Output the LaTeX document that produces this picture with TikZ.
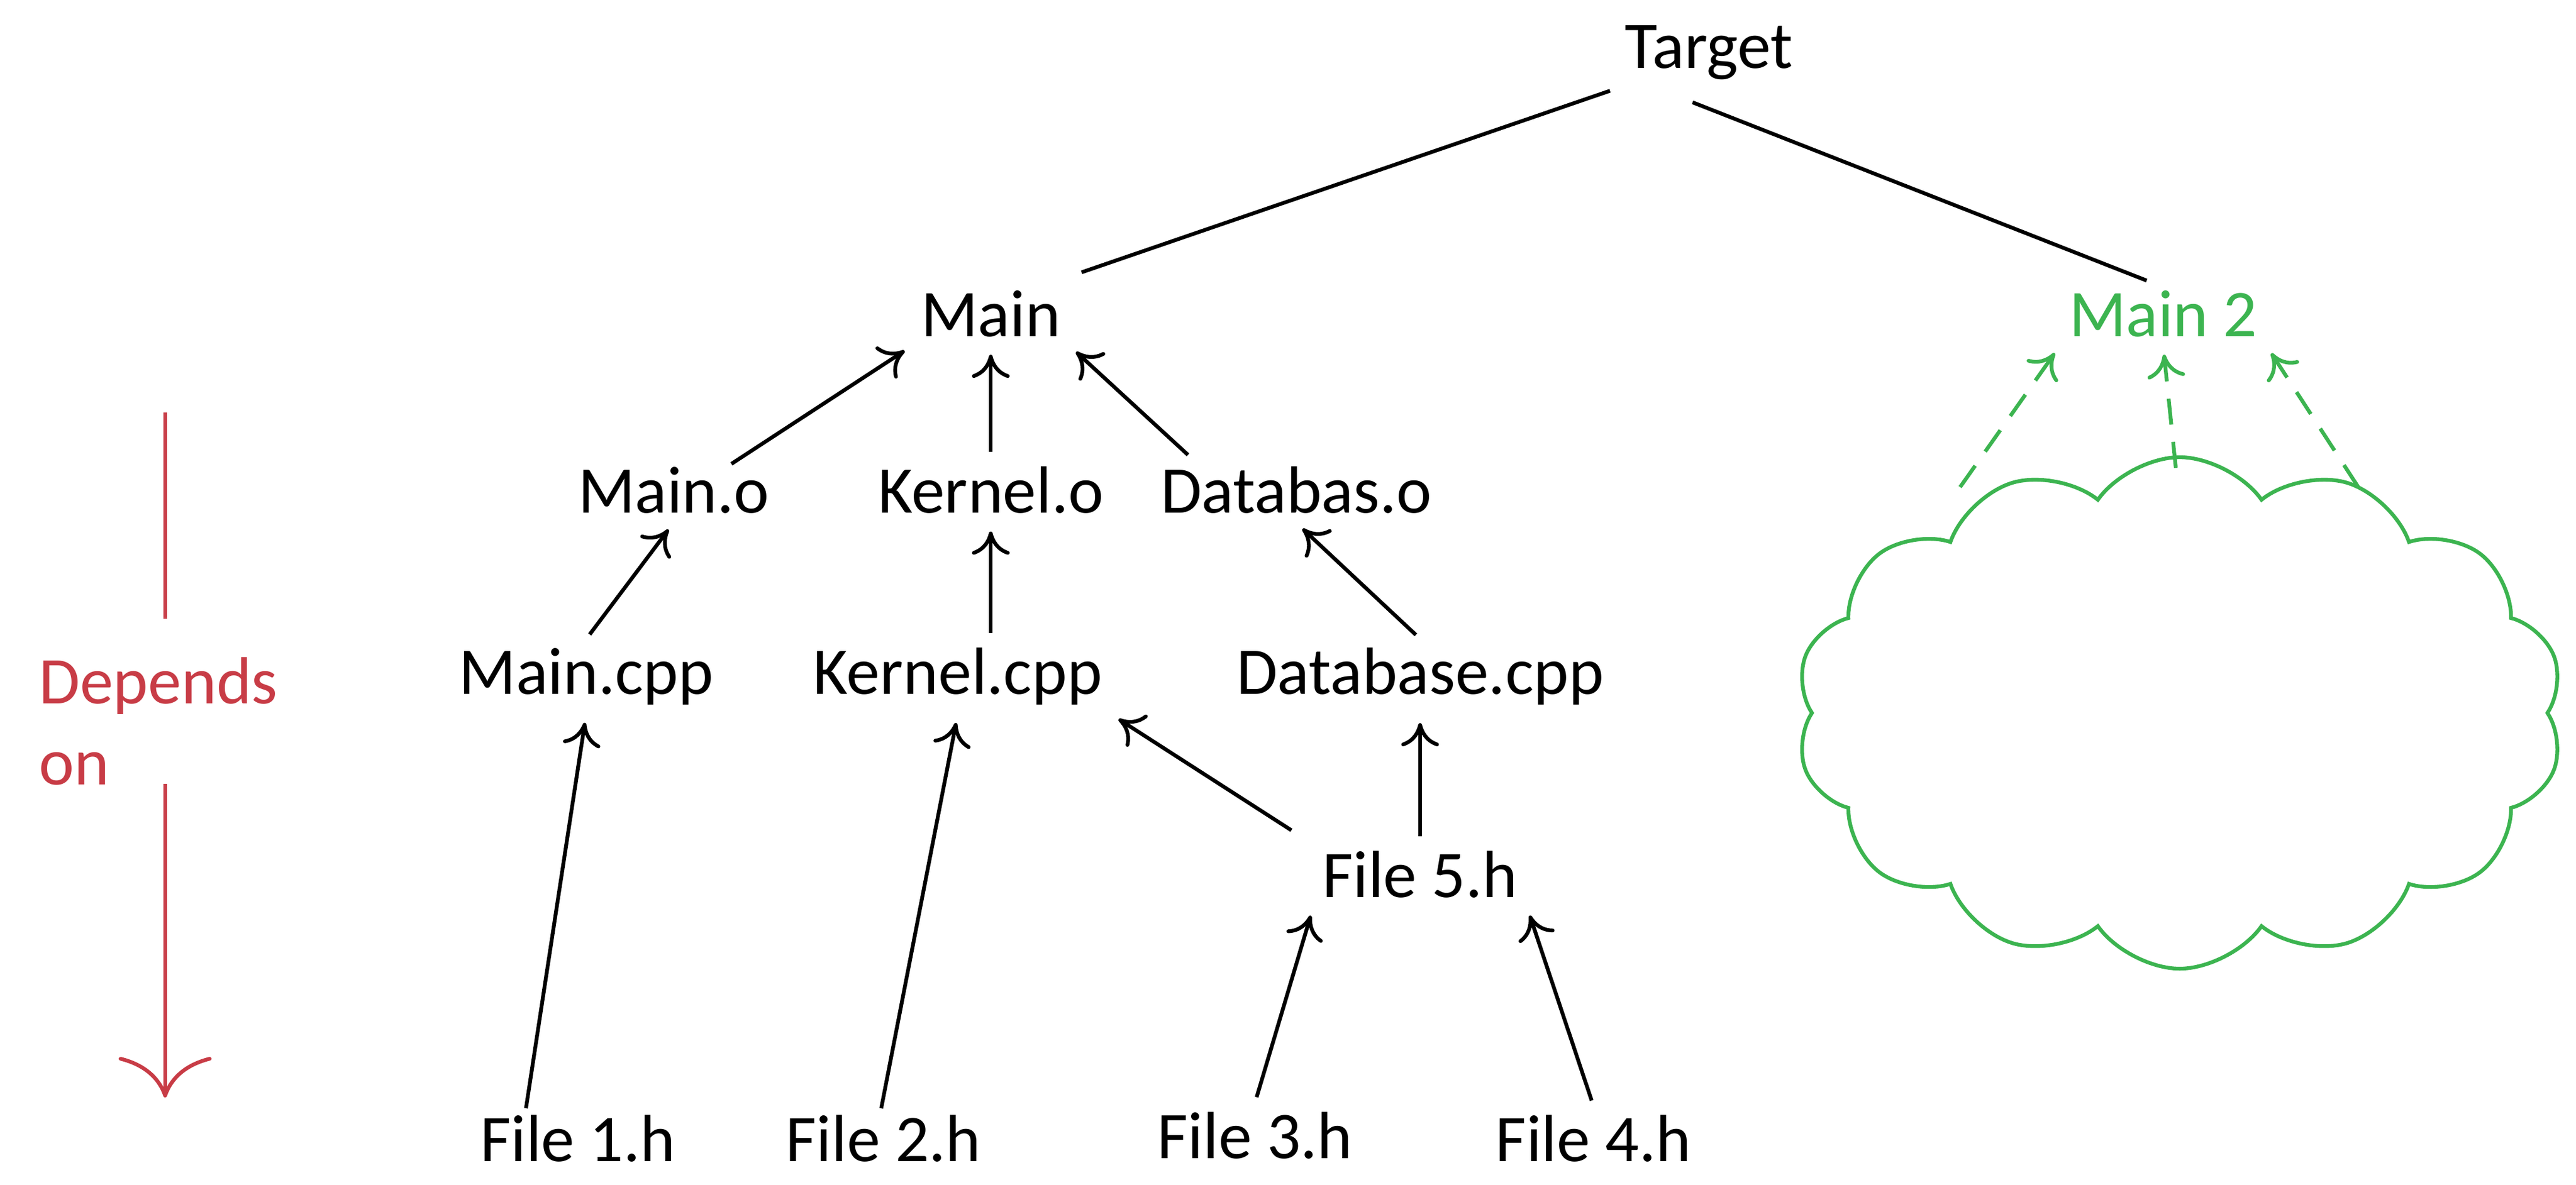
\documentclass[tikz,border=0pt]{standalone}
\usepackage{fontspec}
\setmainfont{Carlito}
\usetikzlibrary{shapes.symbols,arrows.meta}
\begin{document}
\begin{tikzpicture}[x=0.02cm,y=-0.02cm,
  lbl/.style={font=\fontsize{23}{28}\selectfont, inner sep=3pt},
  dep/.style={-{To[length=8pt,width=13pt]}, line width=1.3pt, shorten >=3pt, shorten <=2pt},
  ln/.style={line width=1.3pt},
  gdep/.style={dep, draw=grn, dash pattern=on 9pt off 6pt}]
\definecolor{grn}{RGB}{60,180,80}
\definecolor{rd}{RGB}{200,60,70}
\useasboundingbox (0,0) rectangle (1560,718);
\node[lbl] (t) at (1035,32) {Target};
\node[lbl] (m) at (600,190) {Main};
\node[lbl,text=grn] (m2) at (1310,190) {Main 2};
\node[lbl] (mo) at (408,297) {Main.o};
\node[lbl] (ko) at (600,297) {Kernel.o};
\node[lbl] (do) at (785,297) {Databas.o};
\node[lbl] (mc) at (355,410) {Main.cpp};
\node[lbl] (kc) at (580,410) {Kernel.cpp};
\node[lbl] (dc) at (860,410) {Database.cpp};
\node[lbl] (f5) at (860,530) {File 5.h};
\node[lbl] (f1) at (350,690) {File 1.h};
\node[lbl] (f2) at (535,690) {File 2.h};
\node[lbl] (f3) at (760,688) {File 3.h};
\node[lbl] (f4) at (965,690) {File 4.h};
\node[lbl,text=rd,align=left,anchor=west] (dp) at (18,437) {Depends\\on};
\coordinate (ra) at (100,250); \coordinate (rb) at (100,665);
\draw[ln,draw=rd] (ra) -- (100,375);
\draw[ln,draw=rd,-{To[length=14pt,width=32pt]}] (100,475) -- (rb);
\node[cloud, cloud puffs=14, cloud puff arc=110, aspect=1.6, draw=grn, line width=1.3pt,
  minimum width=9.3cm, minimum height=6.2cm] (cl) at (1320,432) {};
\coordinate (c1) at (1185,298); \coordinate (c2) at (1318,287); \coordinate (c3) at (1430,298);
\coordinate (ta) at (975,55); \coordinate (ma) at (655,165);
\coordinate (tb) at (1025,62); \coordinate (mb) at (1300,170);
\draw[ln] (ta) -- (ma);
\draw[ln] (tb) -- (mb);
\coordinate (moa) at (440,283); \coordinate (doa) at (722,278); \coordinate (f5b) at (785,505);
\draw[dep] (moa) -- (m.south west);
\draw[dep] (ko) -- (m);
\draw[dep] (doa) -- (m.south east);
\draw[dep] (mc.north) -- (mo.south);
\draw[dep] (ko.south |- kc.north) -- (ko.south);
\draw[dep] (dc.north) -- (do.south);
\coordinate (f1a) at (318,675); \coordinate (f2a) at (533,675);
\draw[dep] (f1a) -- (mc.south);
\draw[dep] (f2a) -- (kc.south);
\draw[dep] (f5b) -- (kc.south east);
\draw[dep] (f5.north) -- (dc.south);
\draw[dep] (f3.north) -- (f5.south west);
\draw[dep] (f4.north) -- (f5.south east);
\draw[gdep] (c1) -- (m2.south west);
\draw[gdep] (c2) -- (m2.south);
\draw[gdep] (c3) -- (m2.south east);
\end{tikzpicture}
\end{document}
